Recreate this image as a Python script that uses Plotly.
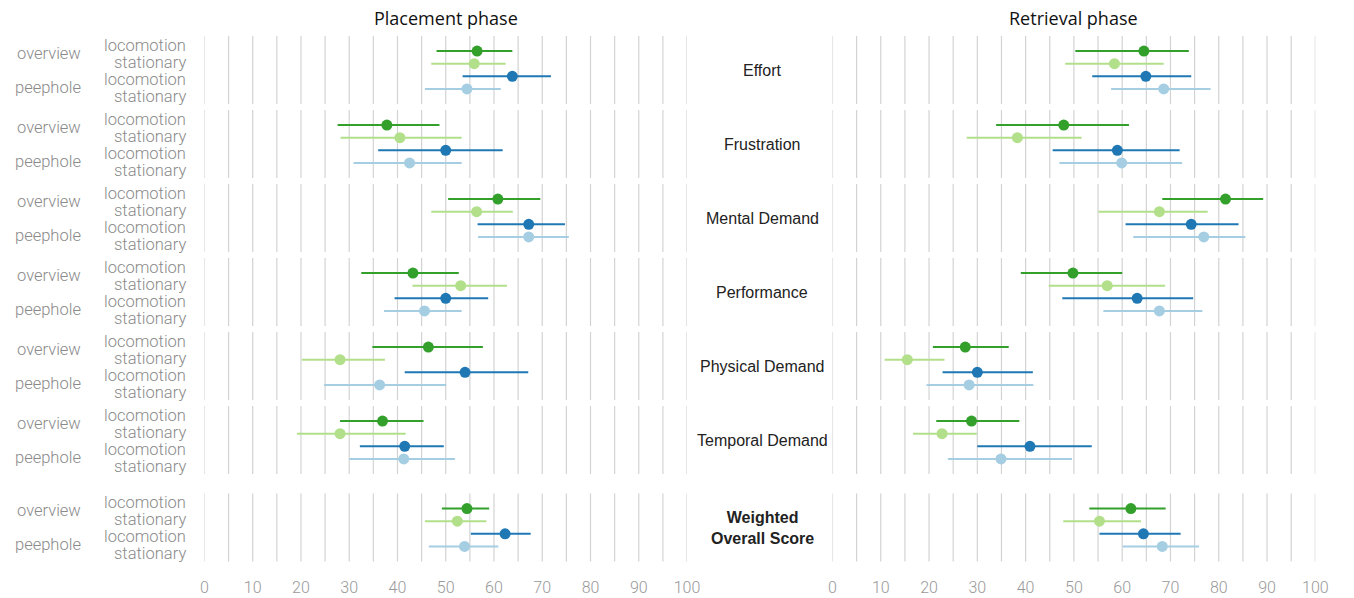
import plotly.graph_objects as go

W, H = 1354, 598

categories = ["Effort", "Frustration", "Mental Demand", "Performance",
              "Physical Demand", "Temporal Demand", "Weighted<br>Overall Score"]
conditions = ["overview locomotion", "overview stationary",
              "peephole locomotion", "peephole stationary"]
interface_labels = ["overview", "peephole"]
movement_labels = ["locomotion", "stationary", "locomotion", "stationary"]
colors = ["#33a02c", "#b2df8a", "#1f78b4", "#a6cee3"]
x_ticks = [0, 10, 20, 30, 40, 50, 60, 70, 80, 90, 100]

# ---- Placement phase (mean, CI low, CI high) ----
place_ovloc_mean = [56.5, 37.8, 60.8, 43.2, 46.4, 36.9, 54.4]
place_ovloc_lo   = [48.1, 27.6, 50.5, 32.5, 34.8, 28.1, 49.2]
place_ovloc_hi   = [63.8, 48.7, 69.6, 52.7, 57.7, 45.4, 59.0]
place_ovsta_mean = [55.9, 40.5, 56.4, 53.1, 28.1, 28.1, 52.4]
place_ovsta_lo   = [47.0, 28.2, 47.0, 43.1, 20.2, 19.2, 45.7]
place_ovsta_hi   = [62.4, 53.3, 63.9, 62.7, 37.4, 41.7, 58.4]
place_pploc_mean = [63.8, 50.0, 67.2, 50.0, 54.0, 41.5, 62.3]
place_pploc_lo   = [53.5, 36.0, 56.6, 39.4, 41.5, 32.2, 55.2]
place_pploc_hi   = [71.8, 61.8, 74.7, 58.8, 67.1, 49.6, 67.6]
place_ppsta_mean = [54.4, 42.5, 67.2, 45.6, 36.3, 41.3, 53.9]
place_ppsta_lo   = [45.7, 30.9, 56.7, 37.2, 24.8, 30.0, 46.5]
place_ppsta_hi   = [61.4, 53.3, 75.5, 53.3, 50.1, 51.9, 60.9]

# ---- Retrieval phase ----
retr_ovloc_mean = [64.5, 47.9, 81.4, 49.8, 27.5, 28.8, 61.8]
retr_ovloc_lo   = [50.3, 33.9, 68.3, 39.0, 20.8, 21.5, 53.2]
retr_ovloc_hi   = [73.8, 61.4, 89.2, 60.0, 36.5, 38.7, 69.0]
retr_ovsta_mean = [58.4, 38.3, 67.7, 56.9, 15.5, 22.7, 55.3]
retr_ovsta_lo   = [48.2, 27.8, 55.1, 44.8, 10.8, 16.7, 47.8]
retr_ovsta_hi   = [68.6, 51.6, 77.7, 68.9, 23.2, 29.9, 63.9]
retr_pploc_mean = [64.9, 59.0, 74.3, 63.1, 30.0, 40.9, 64.4]
retr_pploc_lo   = [53.8, 45.6, 60.7, 47.6, 22.8, 30.0, 55.3]
retr_pploc_hi   = [74.3, 71.9, 84.1, 74.7, 41.5, 53.7, 72.1]
retr_ppsta_mean = [68.6, 59.9, 76.9, 67.7, 28.3, 34.9, 68.3]
retr_ppsta_lo   = [57.7, 47.0, 62.3, 56.1, 19.5, 23.9, 60.1]
retr_ppsta_hi   = [78.3, 72.4, 85.5, 76.6, 41.6, 49.6, 75.9]

place = [(place_ovloc_mean, place_ovloc_lo, place_ovloc_hi),
         (place_ovsta_mean, place_ovsta_lo, place_ovsta_hi),
         (place_pploc_mean, place_pploc_lo, place_pploc_hi),
         (place_ppsta_mean, place_ppsta_lo, place_ppsta_hi)]
retr = [(retr_ovloc_mean, retr_ovloc_lo, retr_ovloc_hi),
        (retr_ovsta_mean, retr_ovsta_lo, retr_ovsta_hi),
        (retr_pploc_mean, retr_pploc_lo, retr_pploc_hi),
        (retr_ppsta_mean, retr_ppsta_lo, retr_ppsta_hi)]

# ---- layout geometry (y axis in pixel-like units) ----
BOTTOM_MARGIN = 26
Y_MAX = H - BOTTOM_MARGIN
GROUP_FIRST = 70.0
GROUP_PERIOD = 74.0
GROUP_HALF = 34.0
LAST_EXTRA = 13.5
DOT_STEP = 12.6
LABEL_STEP = 17.0


def group_center(i):
    c = GROUP_FIRST + i * GROUP_PERIOD
    if i == len(categories) - 1:
        c += LAST_EXTRA
    return c


fig = go.Figure()

# gridlines, broken per group
for xa in ["x", "x2"]:
    gx, gy = [], []
    for i in range(len(categories)):
        c = group_center(i)
        for v in range(0, 101, 5):
            gx += [v, v, None]
            gy += [c - GROUP_HALF, c + GROUP_HALF, None]
    fig.add_trace(go.Scatter(x=gx, y=gy, mode="lines", xaxis=xa, yaxis="y",
                             line=dict(color="#d3d3d3", width=1.2),
                             hoverinfo="skip", showlegend=False))

for xa, data in [("x", place), ("x2", retr)]:
    for k, (m, lo, hi) in enumerate(data):
        ys = [group_center(i) + (k - 1.5) * DOT_STEP for i in range(len(categories))]
        fig.add_trace(go.Scatter(
            x=m, y=ys, mode="markers", xaxis=xa, yaxis="y",
            marker=dict(color=colors[k], size=11, line=dict(width=0)),
            error_x=dict(type="data", symmetric=False,
                         array=[h - v for h, v in zip(hi, m)],
                         arrayminus=[v - l for v, l in zip(m, lo)],
                         color=colors[k], thickness=2, width=0),
            name=conditions[k], showlegend=False))

ann = []
gray = "#8a8a8a"
for i, cat in enumerate(categories):
    c = group_center(i)
    for k, lab in enumerate(movement_labels):
        ann.append(dict(x=186 / W, xref="paper", y=c + (k - 1.5) * LABEL_STEP + 0.5, yref="y",
                        text=lab, showarrow=False, xanchor="right", yanchor="middle",
                        font=dict(family="Roboto", size=16.5, color=gray, weight=300)))
    for j, lab in enumerate(interface_labels):
        ann.append(dict(x=80 / W, xref="paper", y=c + (j * 2 - 1) * LABEL_STEP, yref="y",
                        text=lab, showarrow=False, xanchor="right", yanchor="middle",
                        font=dict(family="Roboto", size=16.5, color=gray, weight=300)))
    bold = i == len(categories) - 1
    ann.append(dict(x=768 / W, xref="paper", y=c, yref="y", text=cat, showarrow=False,
                    xanchor="center", yanchor="middle", align="center",
                    font=dict(family="Liberation Sans", size=16, color="#222222",
                              weight=700 if bold else 400)))

ann.append(dict(x=447.5 / W, xref="paper", y=18, yref="y", text="Placement phase",
                showarrow=False, xanchor="center", yanchor="middle",
                font=dict(family="Open Sans", size=18, color="#111111")))
ann.append(dict(x=1083.5 / W, xref="paper", y=18, yref="y", text="Retrieval phase",
                showarrow=False, xanchor="center", yanchor="middle",
                font=dict(family="Open Sans", size=18, color="#111111")))

axis_common = dict(range=[0, 100], tickvals=x_ticks, showgrid=False, zeroline=False,
                   showline=False, ticks="", anchor="y", ticklabelstandoff=4,
                   tickfont=dict(family="Roboto", size=16, color="#999999", weight=300))

fig.update_layout(
    width=W, height=H,
    autosize=False,
    margin=dict(l=0, r=0, t=0, b=BOTTOM_MARGIN),
    paper_bgcolor="white", plot_bgcolor="white",
    xaxis=dict(domain=[203 / W, 691.7 / W], **axis_common),
    xaxis2=dict(domain=[839 / W, 1328 / W], **axis_common),
    yaxis=dict(range=[Y_MAX, 0], visible=False, domain=[0, 1]),
    annotations=ann,
    showlegend=False,
)

fig.write_html(
    "out.html",
    config={"displayModeBar": False, "responsive": False},
    post_script=("document.body.style.margin='0';"
                 "document.body.style.overflow='hidden';"
                 "document.documentElement.style.overflow='hidden';"),
)
